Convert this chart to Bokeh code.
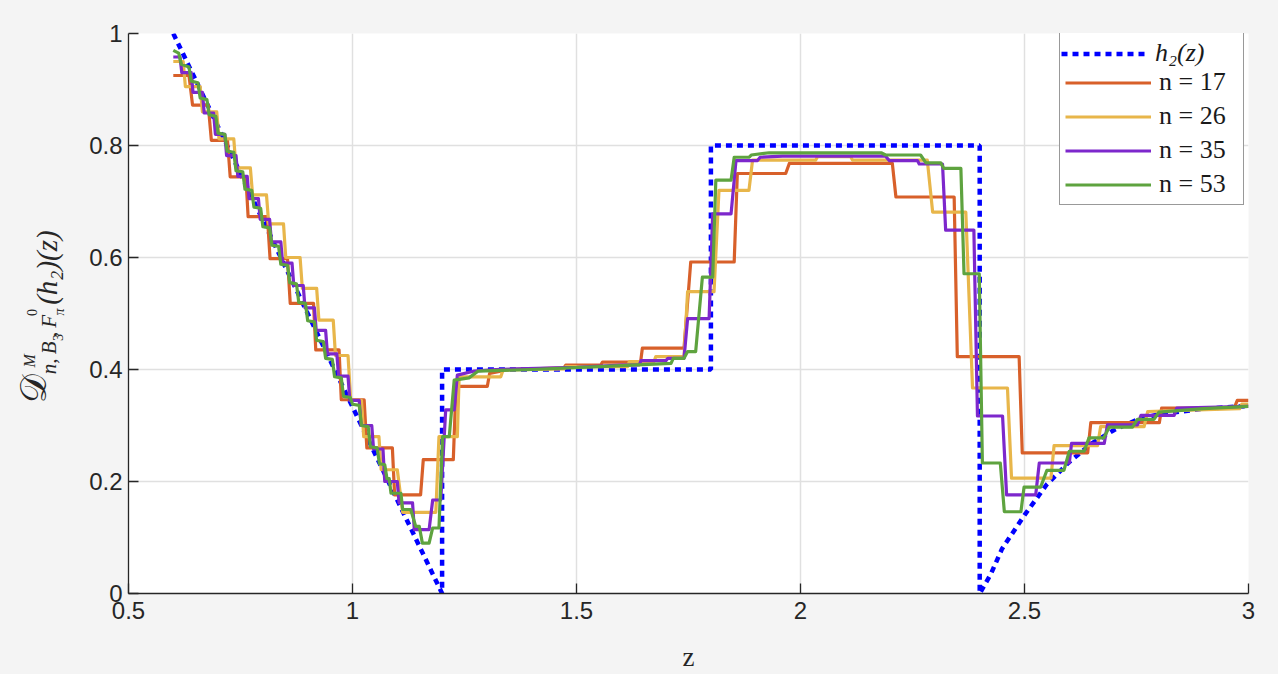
import math
from bokeh.plotting import figure
from bokeh.layouts import row
from bokeh.models import Range1d, FixedTicker, Legend, LegendItem
from bokeh.core.properties import value
from bokeh.embed import file_html
from bokeh.resources import INLINE

# ---------------- data ----------------
x_ticks = [0.5, 1, 1.5, 2, 2.5, 3]
x_tick_labels = ["0.5", "1", "1.5", "2", "2.5", "3"]
y_ticks = [0, 0.2, 0.4, 0.6, 0.8, 1]
y_tick_labels = ["0", "0.2", "0.4", "0.6", "0.8", "1"]

series_labels = ["h\u2082(z)", "n = 17", "n = 26", "n = 35", "n = 53"]

h2_z = [0.6, 1.2, 1.2, 1.8, 1.8, 2.4, 2.4, 2.425, 2.45, 2.5, 2.55, 2.6, 2.65, 2.7, 2.75, 2.8, 2.9, 3.0]
h2_v = [1.0, 0.0, 0.4, 0.4, 0.8, 0.8, 0.0, 0.035, 0.08, 0.14, 0.195, 0.235, 0.268, 0.292, 0.31, 0.32, 0.33, 0.335]

n17_z = [0.600, 0.635, 0.643, 0.678, 0.685, 0.721, 0.727, 0.762, 0.767, 0.810,
         0.816, 0.855, 0.861, 0.913, 0.918, 0.970, 0.975, 1.026, 1.032, 1.089,
         1.094, 1.152, 1.158, 1.225, 1.231, 1.301, 1.306, 1.350, 1.472, 1.476,
         1.554, 1.558, 1.643, 1.647, 1.740, 1.755, 1.852, 1.859, 1.967, 1.975,
         2.205, 2.213, 2.343, 2.350, 2.488, 2.495, 2.641, 2.648, 2.801, 2.806,
         2.968, 2.975, 3.000]
n17_v = [0.925, 0.925, 0.872, 0.872, 0.809, 0.809, 0.744, 0.744, 0.673, 0.673,
         0.598, 0.598, 0.518, 0.518, 0.435, 0.435, 0.346, 0.346, 0.260, 0.260,
         0.176, 0.176, 0.239, 0.239, 0.370, 0.370, 0.393, 0.400, 0.403, 0.408,
         0.408, 0.413, 0.413, 0.438, 0.438, 0.592, 0.592, 0.750, 0.750, 0.768,
         0.768, 0.708, 0.708, 0.423, 0.423, 0.251, 0.251, 0.305, 0.305, 0.331,
         0.331, 0.345, 0.345]

n26_z = [0.600, 0.622, 0.627, 0.660, 0.665, 0.697, 0.702, 0.735, 0.740, 0.772,
         0.777, 0.808, 0.813, 0.846, 0.851, 0.883, 0.888, 0.920, 0.925, 0.957,
         0.962, 0.990, 0.996, 1.020, 1.025, 1.059, 1.064, 1.100, 1.112, 1.186,
         1.193, 1.234, 1.238, 1.331, 1.336, 1.472, 1.476, 1.614, 1.618, 1.673,
         1.677, 1.740, 1.748, 1.807, 1.818, 1.885, 1.893, 2.034, 2.038, 2.112,
         2.116, 2.283, 2.295, 2.369, 2.384, 2.462, 2.471, 2.559, 2.566, 2.663,
         2.670, 2.767, 2.775, 2.980, 2.985, 3.000]
n26_v = [0.950, 0.950, 0.905, 0.905, 0.860, 0.860, 0.812, 0.812, 0.760, 0.760,
         0.712, 0.712, 0.660, 0.660, 0.600, 0.600, 0.545, 0.545, 0.488, 0.488,
         0.425, 0.425, 0.345, 0.345, 0.280, 0.280, 0.221, 0.221, 0.145, 0.145,
         0.280, 0.280, 0.387, 0.387, 0.399, 0.401, 0.405, 0.405, 0.414, 0.414,
         0.423, 0.423, 0.539, 0.539, 0.720, 0.720, 0.774, 0.774, 0.780, 0.780,
         0.774, 0.774, 0.681, 0.681, 0.367, 0.367, 0.206, 0.206, 0.264, 0.264,
         0.298, 0.298, 0.325, 0.330, 0.338, 0.338]

n35_z = [0.600, 0.615, 0.619, 0.640, 0.644, 0.665, 0.669, 0.690, 0.694, 0.715,
         0.719, 0.740, 0.744, 0.765, 0.769, 0.790, 0.794, 0.815, 0.819, 0.840,
         0.844, 0.865, 0.869, 0.890, 0.894, 0.915, 0.919, 0.940, 0.944, 0.965,
         0.969, 0.990, 0.994, 1.015, 1.019, 1.043, 1.047, 1.068, 1.072, 1.100,
         1.104, 1.134, 1.138, 1.171, 1.179, 1.197, 1.208, 1.227, 1.234, 1.270,
         1.320, 1.500, 1.600, 1.640, 1.644, 1.700, 1.704, 1.740, 1.748, 1.796,
         1.804, 1.845, 1.856, 1.904, 1.910, 1.960, 2.190, 2.198, 2.261, 2.265,
         2.317, 2.324, 2.387, 2.395, 2.451, 2.460, 2.525, 2.533, 2.600, 2.605,
         2.678, 2.685, 2.752, 2.760, 2.834, 2.840, 3.000]
n35_v = [0.958, 0.958, 0.930, 0.930, 0.895, 0.895, 0.858, 0.858, 0.820, 0.820,
         0.782, 0.782, 0.745, 0.745, 0.705, 0.705, 0.668, 0.668, 0.628, 0.628,
         0.590, 0.590, 0.550, 0.550, 0.510, 0.510, 0.470, 0.470, 0.428, 0.428,
         0.388, 0.388, 0.345, 0.345, 0.300, 0.300, 0.258, 0.258, 0.200, 0.200,
         0.162, 0.162, 0.114, 0.114, 0.167, 0.167, 0.328, 0.328, 0.390, 0.397,
         0.400, 0.404, 0.408, 0.408, 0.416, 0.416, 0.420, 0.420, 0.491, 0.491,
         0.678, 0.678, 0.773, 0.773, 0.779, 0.781, 0.781, 0.773, 0.773, 0.767,
         0.767, 0.649, 0.649, 0.317, 0.317, 0.176, 0.176, 0.233, 0.233, 0.268,
         0.268, 0.301, 0.301, 0.318, 0.318, 0.331, 0.334]

n53_z = [0.600, 0.612, 0.618, 0.635, 0.640, 0.655, 0.660, 0.675, 0.680, 0.695,
         0.700, 0.715, 0.720, 0.735, 0.740, 0.755, 0.760, 0.775, 0.780, 0.795,
         0.800, 0.815, 0.820, 0.835, 0.840, 0.855, 0.860, 0.875, 0.880, 0.895,
         0.900, 0.915, 0.920, 0.935, 0.940, 0.955, 0.960, 0.975, 0.980, 0.995,
         1.000, 1.015, 1.020, 1.035, 1.040, 1.055, 1.060, 1.072, 1.077, 1.082,
         1.086, 1.108, 1.112, 1.130, 1.141, 1.149, 1.156, 1.171, 1.179, 1.193,
         1.201, 1.216, 1.227, 1.260, 1.280, 1.400, 1.550, 1.711, 1.716, 1.740,
         1.748, 1.766, 1.781, 1.804, 1.811, 1.845, 1.852, 1.885, 1.890, 1.930,
         2.180, 2.190, 2.268, 2.280, 2.313, 2.320, 2.358, 2.365, 2.399, 2.406,
         2.446, 2.455, 2.492, 2.499, 2.536, 2.550, 2.588, 2.600, 2.633, 2.644,
         2.677, 2.689, 2.741, 2.752, 2.789, 2.800, 2.900, 3.000]
n53_v = [0.970, 0.965, 0.945, 0.940, 0.915, 0.912, 0.885, 0.882, 0.855, 0.852,
         0.822, 0.820, 0.790, 0.788, 0.755, 0.753, 0.722, 0.720, 0.690, 0.688,
         0.655, 0.653, 0.622, 0.620, 0.588, 0.586, 0.555, 0.553, 0.520, 0.518,
         0.487, 0.485, 0.452, 0.450, 0.420, 0.418, 0.387, 0.385, 0.352, 0.350,
         0.338, 0.336, 0.300, 0.298, 0.262, 0.260, 0.232, 0.230, 0.205, 0.205,
         0.179, 0.179, 0.150, 0.150, 0.120, 0.120, 0.090, 0.090, 0.117, 0.117,
         0.280, 0.280, 0.381, 0.385, 0.397, 0.400, 0.405, 0.411, 0.420, 0.420,
         0.432, 0.432, 0.565, 0.565, 0.738, 0.738, 0.779, 0.779, 0.783, 0.787,
         0.787, 0.783, 0.783, 0.769, 0.769, 0.759, 0.759, 0.571, 0.571, 0.233,
         0.233, 0.146, 0.146, 0.190, 0.190, 0.220, 0.220, 0.254, 0.254, 0.278,
         0.278, 0.297, 0.297, 0.311, 0.311, 0.324, 0.330, 0.334]

BG = "#f4f4f4"
INK = "#262626"

H = 674
TOP, BOTTOM = 33, 80          # frame borders (the row aligns both frames)
LW = 70

# ---------------- left strip holding the y-axis title ----------------
# its frame spans page rows TOP .. H-BOTTOM; y data = H - page row
lab_fig = figure(width=LW, height=H, output_backend="svg", toolbar_location=None, title=None,
                 x_range=Range1d(0, LW), y_range=Range1d(BOTTOM, H - TOP),
                 x_axis_type=None, y_axis_type=None,
                 min_border_left=0, min_border_right=0, min_border_top=TOP, min_border_bottom=BOTTOM,
                 background_fill_color=BG, border_fill_color=BG, outline_line_color=None)
lab_fig.grid.visible = False


def ytitle_piece(cx, cy, text, size, style="normal", font="Liberation Serif"):
    # (cx, cy): centre of the piece in page pixels
    lab_fig.text(x=[cx], y=[H - cy], text=[text], angle=math.pi / 2,
                 text_font=value(font), text_font_size=value(size),
                 text_font_style=style, text_align="center", text_baseline="middle",
                 text_color=INK)


ytitle_piece(32.5, 388.5, "\U0001D49F", "36px", font="DejaVu Serif")
ytitle_piece(28.5, 361, "M", "16px", "italic")
ytitle_piece(48, 358, "n,\u2009B", "21px", "italic")
ytitle_piece(57.5, 337.5, "3", "14px")
ytitle_piece(48, 326, ",\u2009F", "21px", "italic")
ytitle_piece(31.5, 312.5, "0", "14px")
ytitle_piece(59, 312, "\u03c0", "14px", "italic")
ytitle_piece(46, 267.5, "(h\u2082)(z)", "29px", "italic")

# ---------------- main figure ----------------
p = figure(width=1278 - LW, height=H, output_backend="svg", toolbar_location=None, title=None,
           x_range=Range1d(0.5, 3), y_range=Range1d(0, 1),
           min_border_left=128 - LW, min_border_right=30, min_border_top=TOP, min_border_bottom=BOTTOM,
           background_fill_color="white", border_fill_color=BG,
           outline_line_color=None)

xt = FixedTicker(ticks=x_ticks, minor_ticks=[])
yt = FixedTicker(ticks=y_ticks, minor_ticks=[])
p.xaxis.ticker = xt
p.yaxis.ticker = yt
p.xgrid.ticker = xt
p.ygrid.ticker = yt
p.xaxis.major_label_overrides = dict(zip(x_ticks, x_tick_labels))
p.yaxis.major_label_overrides = dict(zip(y_ticks, y_tick_labels))

for ax in (p.xaxis[0], p.yaxis[0]):
    ax.axis_line_color = INK
    ax.axis_line_width = 1.3
    ax.major_tick_line_color = INK
    ax.major_tick_line_width = 1.3
    ax.major_tick_in = 10
    ax.major_tick_out = 0
    ax.minor_tick_in = 0
    ax.minor_tick_out = 0
    ax.major_label_text_font = "Liberation Sans"
    ax.major_label_text_font_size = "24px"
    ax.major_label_text_color = INK
p.xaxis.major_label_standoff = 8
p.yaxis.major_label_standoff = 6

p.xaxis.axis_label = "z"
p.xaxis.axis_label_text_font = "Liberation Serif"
p.xaxis.axis_label_text_font_size = "27px"
p.xaxis.axis_label_text_font_style = "normal"
p.xaxis.axis_label_text_color = INK
p.xaxis.axis_label_standoff = 20

p.grid.grid_line_color = "#e0e0e0"
p.grid.grid_line_width = 1.5

colors = ["#0000ff", "#d8602a", "#e8b64a", "#7d27cc", "#5ea33f"]

r_h2 = p.line(h2_z, h2_v, line_color=colors[0], line_width=4.5, line_dash="6 5", line_cap="butt")
r17 = p.line(n17_z, n17_v, line_color=colors[1], line_width=3.2, line_join="round")
r26 = p.line(n26_z, n26_v, line_color=colors[2], line_width=3.2, line_join="round")
r35 = p.line(n35_z, n35_v, line_color=colors[3], line_width=3.2, line_join="round")
r53 = p.line(n53_z, n53_v, line_color=colors[4], line_width=3.2, line_join="round")

common = dict(orientation="vertical", glyph_width=86, glyph_height=29, label_height=29,
              label_standoff=8, label_text_font="Liberation Serif", label_text_font_size="26px",
              label_text_color="#1a1a1a", background_fill_color="white", background_fill_alpha=1.0,
              margin=0)

legend_main = Legend(items=[LegendItem(label=" ", renderers=[r_h2]),
                            LegendItem(label=series_labels[1], renderers=[r17]),
                            LegendItem(label=series_labels[2], renderers=[r26]),
                            LegendItem(label=series_labels[3], renderers=[r35]),
                            LegendItem(label=series_labels[4], renderers=[r53])],
                     location=(931, 388), padding=5, spacing=4, label_width=79,
                     border_line_color="#333333", border_line_width=1.3, **common)
p.add_layout(legend_main)

legend_h2 = Legend(items=[LegendItem(label=series_labels[0], renderers=[r_h2])],
                   location=(933, 525), padding=3, spacing=0, label_width=70,
                   border_line_color=None, label_text_font_style="italic", **common)
p.add_layout(legend_h2)

layout = row(lab_fig, p, styles={"background-color": BG})

html = file_html(layout, INLINE, title="plot")
open("out.html", "w").write(html)
